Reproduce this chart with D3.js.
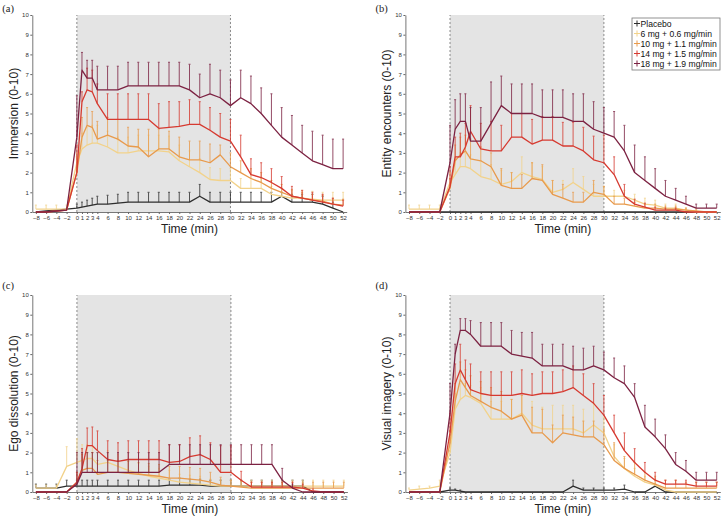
<!DOCTYPE html>
<html>
<head>
<meta charset="utf-8">
<script src="https://cdn.jsdelivr.net/npm/d3@7"></script>
<style>
body { margin: 0; background: #fff; }
svg { display: block; }
.tick text { font-family: "Liberation Sans", Arial, sans-serif; }
</style>
</head>
<body>
<div id="chart"></div>
<script>
// time points (min)
var times = [-8,-6,-4,-2,0,1,2,3,4,6,8,10,12,14,16,18,20,22,24,26,28,30,32,34,36,38,40,42,44,46,48,50,52];
var groups = ["Placebo", "6 mg + 0.6 mg/min", "10 mg + 1.1 mg/min", "14 mg + 1.5 mg/min", "18 mg + 1.9 mg/min"];
var colors = ["#2e2e2e", "#f2d28a", "#e89a4c", "#d63a30", "#7c2242"];
var yTicks = [0,1,2,3,4,5,6,7,8,9,10];

// (a) Immersion  -- rows: placebo, 6, 10, 14, 18
var immersionMean = [
    [0,0.05,0.1,0.15,0.2,0.25,0.3,0.35,0.4,0.4,0.45,0.5,0.5,0.5,0.5,0.5,0.5,0.5,0.8,0.5,0.5,0.5,0.5,0.5,0.5,0.5,0.8,0.5,0.5,0.5,0.4,0.2,0],
    [0.15,0.15,0.15,0.15,2.5,3.2,3.4,3.5,3.5,3.3,3.0,3.0,3.1,3.1,3.1,3.05,2.6,2.3,2.0,1.65,1.6,1.6,1.2,1.2,1.2,0.9,0.8,0.7,0.7,0.65,0.6,0.6,0.6],
    [0,0,0.05,0.1,2.0,3.8,4.4,4.3,3.7,3.9,3.7,3.35,3.3,2.8,3.2,3.2,2.8,2.65,2.65,2.5,2.9,2.3,2.0,1.7,1.5,1.2,1.0,0.8,0.7,0.6,0.55,0.4,0.35],
    [0,0,0.05,0.1,2.0,5.6,6.2,6.1,5.5,4.7,4.7,4.7,4.7,4.7,4.25,4.3,4.35,4.45,4.45,4.15,3.8,3.6,2.8,1.9,1.75,1.5,1.2,0.8,0.7,0.6,0.5,0.4,0.3],
    [0,0,0.05,0.1,3.8,7.2,6.8,6.8,6.2,6.2,6.2,6.4,6.4,6.4,6.4,6.4,6.4,6.2,5.8,6.0,5.8,5.4,5.8,5.5,5.0,4.4,3.8,3.4,3.0,2.6,2.4,2.2,2.2]
];
var immersionErr = [
    [0,0,0,0,0.2,0.25,0.3,0.35,0.4,0.45,0.45,0.5,0.5,0.5,0.5,0.5,0.5,0.5,0.6,0.5,0.5,0.5,0.5,0.5,0.5,0.5,0.2,0.4,0.4,0.4,0.4,0.3,0],
    [0.2,0.2,0.2,0.2,0.5,0.8,0.9,0.9,0.9,0.8,0.8,0.8,0.8,0.8,0.8,0.8,0.8,0.8,0.7,0.6,0.6,0.6,0.5,0.5,0.5,0.4,0.4,0.4,0.4,0.4,0.4,0.4,0.4],
    [0,0,0,0,0.8,1.0,0.9,0.8,0.9,0.9,1.0,0.95,0.9,1.4,1.0,0.9,1.0,0.95,0.95,0.95,0.5,0.7,0.6,0.5,0.5,0.4,0.4,0.35,0.3,0.3,0.3,0.3,0.3],
    [0,0,0,0,1.4,0.5,1.1,1.1,1.0,1.3,1.3,1.3,1.3,1.3,1.25,1.3,1.25,1.25,1.15,1.15,1.2,1.1,1.1,0.8,0.75,0.7,0.6,0.5,0.4,0.4,0.4,0.3,0.3],
    [0,0,0,0,2.1,0.9,0.9,0.9,1.2,1.2,1.2,1.2,1.2,1.2,1.2,1.2,1.2,1.3,1.2,1.5,1.4,1.3,1.4,1.4,1.3,1.6,1.5,1.5,1.4,1.5,1.5,1.5,1.5]
];

// (b) Entity encounters
var entityMean = [
    [0,0,0,0,0,0,0,0,0,0,0,0,0,0,0,0,0,0,0,0,0,0,0,0,0,0,0,0,0,0,0,0,0],
    [0.15,0.15,0.15,0.15,1.5,1.9,2.3,2.3,2.2,1.8,1.65,1.4,1.55,2.0,1.8,1.65,1.0,1.15,1.5,1.15,0.8,0.8,0.8,0.8,0.6,0.4,0.35,0.2,0.2,0.1,0,0,0],
    [0,0,0,0,1.2,2.6,2.9,3.1,2.7,2.6,2.3,1.35,1.2,1.2,1.7,1.6,0.9,0.7,0.5,0.5,1.0,0.9,0.4,0.4,0.3,0.2,0.2,0.15,0.15,0.1,0.05,0,0],
    [0,0,0,0,1.3,2.8,2.8,3.3,4.1,3.2,3.1,3.1,3.8,3.8,3.45,3.65,3.65,3.35,3.35,3.1,2.65,2.5,1.9,0.8,0.4,0.25,0.1,0.1,0.1,0,0,0,0],
    [0,0,0,0,2.5,4.2,4.6,4.6,3.6,3.6,4.5,5.4,5.0,5.0,5.0,4.8,4.8,4.8,4.6,4.6,4.2,4.0,3.8,3.1,2.0,1.6,1.2,0.8,0.6,0.4,0.2,0.2,0.2]
];
var entityErr = [
    [0,0,0,0,0,0,0,0,0,0,0,0,0,0,0,0,0,0,0,0,0,0,0,0,0,0,0,0,0,0,0,0,0],
    [0.2,0.2,0.2,0.2,0.5,0.7,0.7,0.7,0.7,0.8,0.75,0.7,0.45,0.8,0.7,0.65,0.6,0.45,0.7,0.65,0.6,0.5,0.3,0.3,0.3,0.3,0.25,0.2,0.2,0.1,0,0,0],
    [0,0,0,0,0.5,0.8,0.9,0.8,1.0,0.7,0.7,0.85,0.8,0.7,0.8,0.8,0.7,0.7,0.5,0.5,0.6,0.4,0.4,0.3,0.2,0.2,0.2,0.15,0.15,0.1,0.1,0,0],
    [0,0,0,0,1.0,1.0,1.2,1.2,1.3,1.3,1.5,1.3,1.2,1.2,1.25,1.2,1.2,1.2,1.2,1.2,1.2,1.4,0.9,0.6,0.25,0.2,0.15,0.1,0.1,0,0,0,0],
    [0,0,0,0,1.9,1.5,1.4,1.4,1.7,1.7,2.1,1.5,1.5,1.5,1.5,1.4,1.4,1.4,1.4,1.4,1.4,1.3,1.3,1.3,1.4,1.2,1.0,0.8,0.6,0.4,0.2,0.2,0.2]
];

// (c) Ego dissolution
var egoMean = [
    [0.2,0.2,0.2,0.3,0.3,0.3,0.3,0.3,0.3,0.3,0.3,0.3,0.3,0.3,0.3,0.35,0.35,0.35,0.35,0.3,0.3,0.3,0.3,0.3,0.3,0.3,0.3,0.3,0.3,0,0,0,0],
    [0.2,0.2,0.2,1.3,1.5,1.6,1.7,1.7,1.4,1.5,1.3,1.1,0.95,0.8,0.7,0.6,0.5,0.45,0.4,0.35,0.3,0.3,0.3,0.3,0.3,0.3,0.3,0.3,0.3,0.3,0.3,0.3,0.3],
    [0,0,0,0,0.5,1.1,1.2,1.2,0.9,1.0,1.0,0.95,0.9,0.85,0.8,0.7,0.7,0.65,0.6,0.5,0.35,0.3,0.25,0.2,0.2,0.2,0.2,0.2,0.2,0.2,0.2,0.2,0.2],
    [0,0,0,0,0.5,1.2,2.35,2.35,2.1,1.65,1.55,1.65,1.65,1.65,1.65,1.5,1.55,1.8,1.9,1.65,1.0,1.0,0.6,0.25,0.25,0.25,0.25,0.25,0.2,0.05,0,0,0],
    [0,0,0,0,0.4,1.0,1.0,1.0,1.0,1.0,1.0,1.0,1.0,1.0,1.0,1.4,1.4,1.4,1.4,1.4,1.4,1.4,1.4,1.4,1.4,1.4,0.6,0.2,0,0,0,0,0]
];
var egoErr = [
    [0.2,0.2,0.2,0.3,0.3,0.3,0.3,0.3,0.3,0.3,0.3,0.3,0.3,0.3,0.3,0.3,0.35,0.3,0.3,0.3,0.3,0.3,0.3,0.3,0.3,0.3,0.3,0.3,0.3,0,0,0,0],
    [0.15,0.15,0.15,1.0,1.2,0.8,0.7,0.6,0.6,0.6,0.6,0.5,0.5,0.5,0.5,0.5,0.4,0.4,0.4,0.3,0.3,0.3,0.3,0.3,0.3,0.3,0.3,0.3,0.3,0.3,0.3,0.3,0.3],
    [0,0,0,0,0.5,0.8,0.8,0.8,0.7,0.6,0.6,0.6,0.6,0.6,0.6,0.6,0.6,0.6,0.6,0.5,0.4,0.3,0.3,0.3,0.3,0.3,0.3,0.3,0.3,0.3,0.3,0.3,0.3],
    [0,0,0,0,0.5,1.0,0.9,0.95,1.0,0.95,0.95,0.95,0.95,0.95,0.95,0.9,0.85,0.95,0.95,0.85,1.35,1.35,0.45,0.25,0.25,0.25,0.25,0.25,0.2,0.1,0,0,0],
    [0,0,0,0,1.6,1.0,1.0,1.0,1.0,1.0,1.0,1.0,1.0,1.0,1.0,1.0,1.0,1.0,1.0,1.0,1.0,1.0,1.0,1.0,1.0,1.0,0.6,0.2,0,0,0,0,0]
];

// (d) Visual imagery
var visualMean = [
    [0,0,0,0,0.1,0.1,0.05,0,0,0,0,0,0,0,0,0,0,0,0.3,0.1,0.1,0.1,0.1,0.15,0,0,0.3,0,0,0,0,0,0],
    [0.1,0.15,0.2,0.3,2.0,4.2,4.7,4.9,4.8,4.5,3.7,3.7,3.7,4.0,3.4,3.2,3.2,3.2,3.2,3.0,3.4,3.0,1.8,1.2,0.8,0.5,0.35,0.1,0,0,0,0,0],
    [0,0,0,0,2.5,4.6,5.7,5.3,4.9,4.6,4.3,4.1,3.7,3.9,3.0,3.0,2.5,3.0,2.9,2.8,2.8,2.4,1.6,1.2,0.9,0.6,0.4,0.2,0.2,0.2,0.2,0.2,0.2],
    [0,0,0,0,3.0,5.5,6.2,5.7,5.2,5.0,4.9,4.9,4.9,5.0,4.9,5.0,5.0,5.1,5.3,4.9,4.5,3.9,3.0,2.1,1.5,1.0,0.6,0.4,0.4,0.4,0.3,0.3,0.3],
    [0,0,0,0,4.0,7.0,8.2,8.2,8.0,7.4,7.4,7.4,7.0,6.9,6.8,6.4,6.4,6.4,6.2,6.2,6.4,6.2,5.8,5.5,4.8,3.3,2.8,2.2,1.4,1.05,0.6,0.6,0.6]
];
var visualErr = [
    [0,0,0,0,0.1,0.05,0.05,0,0,0,0,0,0,0,0,0,0,0,0.3,0.1,0.1,0.1,0.1,0.2,0,0,0.1,0,0,0,0,0,0],
    [0.1,0.15,0.1,0.3,0.8,0.8,0.8,0.6,0.6,0.8,0.9,0.9,1.0,0.9,1.2,1.1,1.2,1.2,1.2,1.2,1.1,0.8,0.6,0.5,0.4,0.3,0.3,0.1,0,0,0,0,0],
    [0,0,0,0,0.6,0.9,0.9,0.9,1.0,1.0,1.0,1.0,1.0,1.0,1.3,1.2,0.9,0.9,0.9,0.8,0.8,0.8,0.9,0.6,0.6,0.4,0.4,0.4,0.4,0.3,0.3,0.3,0.3],
    [0,0,0,0,1.0,1.0,1.3,1.0,1.3,1.1,1.2,1.2,1.2,1.2,1.1,1.1,1.1,1.1,1.1,1.1,1.0,1.0,0.9,0.9,0.7,0.5,0.4,0.2,0.2,0.2,0.2,0.2,0.2],
    [0,0,0,0,1.5,0.5,0.6,0.6,0.7,1.2,1.2,1.2,1.2,1.2,1.3,1.1,1.1,1.1,1.2,1.1,1.0,0.9,1.0,0.9,0.7,1.1,0.9,0.7,0.6,0.55,0.4,0.4,0.4]
];

var panels = [
    {tag: "(a)", title: "Immersion (0-10)", mean: immersionMean, err: immersionErr, x0: 32.3, x1: 346.7, top: 15, bottom: 212, tagY: 12, legend: false},
    {tag: "(b)", title: "Entity encounters (0-10)", mean: entityMean, err: entityErr, x0: 405.4, x1: 720.3, top: 15, bottom: 212, tagY: 12, legend: true},
    {tag: "(c)", title: "Ego dissolution (0-10)", mean: egoMean, err: egoErr, x0: 32.3, x1: 347.4, top: 295, bottom: 492, tagY: 289, legend: false},
    {tag: "(d)", title: "Visual imagery (0-10)", mean: visualMean, err: visualErr, x0: 405.4, x1: 720.3, top: 295, bottom: 492, tagY: 289, legend: false}
];

var W = 724, H = 517;
var svg = d3.select("#chart").append("svg")
    .attr("width", W)
    .attr("height", H);

var sans = "'Liberation Sans', Arial, Helvetica, sans-serif";

panels.forEach(function(p){
    var x = d3.scaleLinear().domain([-8.7, 52.7]).range([p.x0, p.x1]);
    var y = d3.scaleLinear().domain([0, 10]).range([p.bottom, p.top]);
    var g = svg.append("g");

    // infusion window
    g.append("rect")
        .attr("x", x(0)).attr("y", y(10))
        .attr("width", x(30) - x(0)).attr("height", y(0) - y(10))
        .attr("fill", "#e4e4e4");
    [0, 30].forEach(function(t){
        g.append("line")
            .attr("x1", x(t)).attr("x2", x(t))
            .attr("y1", y(0)).attr("y2", y(10))
            .attr("stroke", "#8a8a8a")
            .attr("stroke-width", 1)
            .attr("stroke-dasharray", "2,2");
    });

    // axes
    var xAxis = d3.axisBottom(x).tickValues(times).tickSize(2).tickSizeOuter(0).tickPadding(2);
    var gx = g.append("g").attr("transform", "translate(0," + y(0) + ")").call(xAxis);
    gx.selectAll("text").attr("font-size", 6).attr("fill", "#333");
    gx.selectAll("line").attr("stroke", "#666");
    gx.select(".domain").attr("stroke", "#777");

    var yAxis = d3.axisLeft(y).tickValues(yTicks).tickSize(2).tickSizeOuter(0).tickPadding(1.5);
    var gy = g.append("g").attr("transform", "translate(" + p.x0 + ",0)").call(yAxis);
    gy.selectAll("text").attr("font-size", 6).attr("fill", "#333");
    gy.selectAll("line").attr("stroke", "#666");
    gy.select(".domain").attr("stroke", "#777");

    // series
    var line = d3.line()
        .x(function(d, i){ return x(times[i]); })
        .y(function(d){ return y(d); });

    p.mean.forEach(function(series, k){
        var errs = p.err[k];
        var eb = g.append("g").attr("stroke", colors[k]).attr("stroke-width", 1).attr("opacity", 0.8);
        series.forEach(function(v, i){
            if(errs[i] <= 0) return;
            var xi = x(times[i]);
            eb.append("line")
                .attr("x1", xi).attr("x2", xi)
                .attr("y1", y(v)).attr("y2", y(v + errs[i]));
            eb.append("line")
                .attr("x1", xi - 1).attr("x2", xi + 1)
                .attr("y1", y(v + errs[i])).attr("y2", y(v + errs[i]));
        });
        g.append("path")
            .datum(series)
            .attr("d", line)
            .attr("fill", "none")
            .attr("stroke", colors[k])
            .attr("stroke-width", 1.3)
            .attr("stroke-linejoin", "round");
    });

    // titles
    g.append("text")
        .attr("transform", "translate(" + (p.x0 - 14) + "," + ((p.top + p.bottom) / 2) + ") rotate(-90)")
        .attr("text-anchor", "middle")
        .attr("font-family", sans)
        .attr("font-size", 12)
        .attr("fill", "#222")
        .text(p.title);
    g.append("text")
        .attr("x", (x(-8) + x(52)) / 2)
        .attr("y", p.bottom + 21)
        .attr("text-anchor", "middle")
        .attr("font-family", sans)
        .attr("font-size", 12)
        .attr("fill", "#222")
        .text("Time (min)");
    g.append("text")
        .attr("x", p.x0 - 30)
        .attr("y", p.tagY)
        .attr("font-family", "'Liberation Serif', 'Times New Roman', serif")
        .attr("font-size", 10.5)
        .attr("fill", "#222")
        .text(p.tag);

    if(p.legend){
        var lg = g.append("g").attr("transform", "translate(632,18)");
        lg.append("rect")
            .attr("width", 88).attr("height", 52)
            .attr("fill", "#fff")
            .attr("stroke", "#777")
            .attr("stroke-width", 0.8);
        groups.forEach(function(name, k){
            var cy = 5.5 + k * 10;
            lg.append("line").attr("x1", 2).attr("x2", 8).attr("y1", cy).attr("y2", cy)
                .attr("stroke", colors[k]).attr("stroke-width", 1);
            lg.append("line").attr("x1", 5).attr("x2", 5).attr("y1", cy - 3).attr("y2", cy + 3)
                .attr("stroke", colors[k]).attr("stroke-width", 1);
            lg.append("text")
                .attr("x", 8.5).attr("y", cy + 3)
                .attr("font-family", sans)
                .attr("font-size", 8.6)
                .attr("fill", "#111")
                .text(name);
        });
    }
});
</script>
</body>
</html>
